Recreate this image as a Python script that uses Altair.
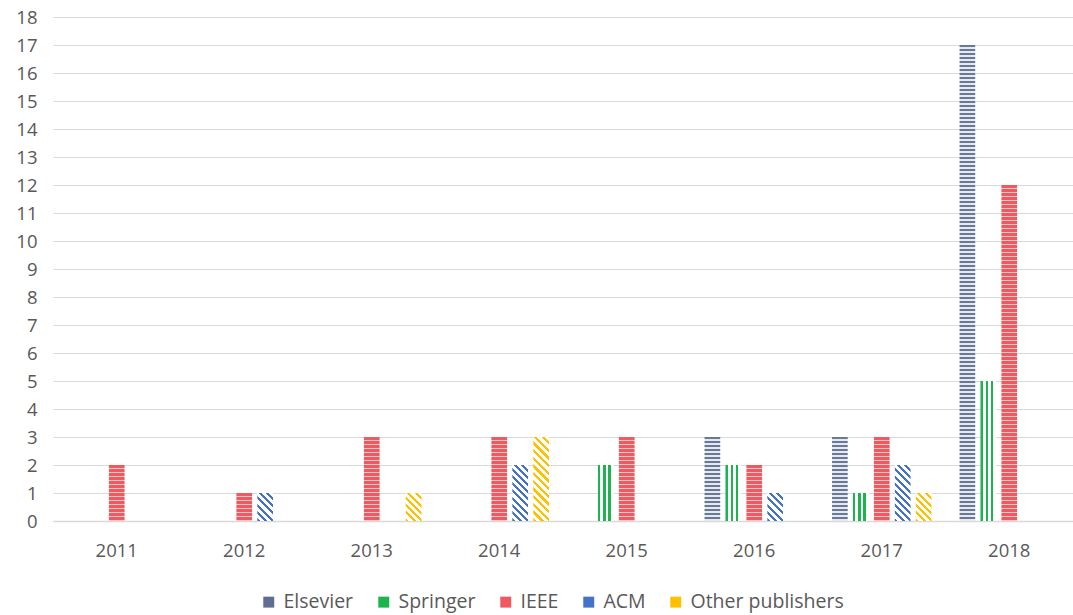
import altair as alt
import pandas as pd

# Publications per year and publisher
years = ["2011", "2012", "2013", "2014", "2015", "2016", "2017", "2018"]
publishers = ["Elsevier", "Springer", "IEEE", "ACM", "Other publishers"]
elsevier = [0, 0, 0, 0, 0, 3, 3, 17]
springer = [0, 0, 0, 0, 2, 2, 1, 5]
ieee = [2, 1, 3, 3, 3, 2, 3, 12]
acm = [0, 1, 0, 2, 0, 1, 2, 0]
other = [0, 0, 1, 3, 0, 0, 1, 0]

series = dict(zip(publishers, [elsevier, springer, ieee, acm, other]))
rows = [
    {"year": y, "publisher": p, "count": v}
    for p, vals in series.items()
    for y, v in zip(years, vals)
    if v > 0
]
df = pd.DataFrame(rows)

# Layout (pixels); a whole number of pixels per unit keeps stripes crisp
W = 1020
Y_MAX = 18
PX_PER_UNIT = 28
H = Y_MAX * PX_PER_UNIT
X_PAD_IN, X_PAD_OUT = 0.22, 0.11
OFF_PAD_IN = 0.25
step_x = W / (len(years) - X_PAD_IN + 2 * X_PAD_OUT)
group_w = step_x * (1 - X_PAD_IN)
bar_w = group_w / (len(publishers) - OFF_PAD_IN) * (1 - OFF_PAD_IN)

TEXT = "#595959"
GRID = "#d9d9d9"
FONT = "Open Sans"

solid = {
    "Elsevier": "#5f6d90",
    "Springer": "#1db34e",
    "IEEE": "#ee5a60",
    "ACM": "#4472c4",
    "Other publishers": "#ffc000",
}


def stripe_stops(c_on, c_off, n, frac):
    stops = []
    for i in range(n):
        a = i / n
        b = (i + frac) / n
        c = (i + 1) / n
        stops += [
            alt.GradientStop(offset=a, color=c_on),
            alt.GradientStop(offset=b, color=c_on),
            alt.GradientStop(offset=b, color=c_off),
            alt.GradientStop(offset=c, color=c_off),
        ]
    return stops


def horizontal_stripes(c_on, c_off, value, period, frac):
    h = value * PX_PER_UNIT
    n = max(1, round(h / period))
    return alt.LinearGradient(
        gradient="linear", x1=0, y1=0, x2=0, y2=1,
        stops=stripe_stops(c_on, c_off, n, frac),
    )


def vertical_stripes(c_on, c_off, n, frac):
    return alt.LinearGradient(
        gradient="linear", x1=0, y1=0, x2=1, y2=0,
        stops=stripe_stops(c_on, c_off, n, frac),
    )


def diagonal_stripes(c_on, c_off, value, period, frac):
    # 45-degree "\" stripes inside a bar of bar_w x h pixels
    w = bar_w
    h = value * PX_PER_UNIT
    k = (w + h) / (w * w + h * h)
    n = max(1, round((w + h) / period))
    return alt.LinearGradient(
        gradient="linear", x1=0, y1=1, x2=w * k, y2=1 - h * k,
        stops=stripe_stops(c_on, c_off, n, frac),
    )


def fill_for(pub, value):
    if pub == "Elsevier":
        return horizontal_stripes("#6b7999", "#e6e9f0", value, 4, 0.5)
    if pub == "Springer":
        return vertical_stripes("#1db34e", "#ffffff", 3, 0.45)
    if pub == "IEEE":
        return horizontal_stripes("#ee5a60", "#f9c4c5", value, 4, 0.75)
    if pub == "ACM":
        return diagonal_stripes("#4472c4", "#ffffff", value, 7.5, 0.42)
    return diagonal_stripes("#ffc000", "#ffffff", value, 7.5, 0.42)


base = alt.Chart(df).encode(
    x=alt.X(
        "year:O",
        sort=years,
        scale=alt.Scale(paddingInner=X_PAD_IN, paddingOuter=X_PAD_OUT),
        axis=alt.Axis(
            title=None, labelAngle=0, ticks=False, domain=True,
            domainColor=GRID, domainWidth=1.5, labelPadding=20,
            labelFontSize=18.5, labelColor=TEXT, labelFont=FONT, grid=False,
        ),
    ),
    xOffset=alt.XOffset(
        "publisher:N",
        sort=publishers,
        scale=alt.Scale(domain=publishers, paddingInner=OFF_PAD_IN, paddingOuter=0),
    ),
    y=alt.Y(
        "count:Q",
        scale=alt.Scale(domain=[0, Y_MAX], nice=False),
        axis=alt.Axis(
            title=None, values=list(range(0, Y_MAX + 1)), domain=False,
            ticks=False, labelPadding=16, labelFontSize=18.5, labelColor=TEXT,
            labelFont=FONT, gridColor=GRID, gridWidth=1.2,
        ),
    ),
)

legend_layer = base.mark_bar(opacity=0).encode(
    color=alt.Color(
        "publisher:N",
        sort=publishers,
        scale=alt.Scale(domain=publishers, range=[solid[p] for p in publishers]),
        legend=alt.Legend(
            title=None, orient="none", direction="horizontal",
            legendX=206, legendY=575, symbolType="square", symbolSize=120,
            symbolOpacity=1, symbolStrokeWidth=0, labelFontSize=19.5,
            labelColor=TEXT, labelFont=FONT, columnPadding=20, labelOffset=5,
        ),
    )
)

layers = [legend_layer]
for pub in publishers:
    for v in sorted(set(x for x in series[pub] if x > 0)):
        layers.append(
            base.mark_bar(fill=fill_for(pub, v), strokeWidth=0).transform_filter(
                (alt.datum.publisher == pub) & (alt.datum["count"] == v)
            )
        )

chart = (
    alt.layer(*layers)
    .properties(
        width=W,
        height=H,
        autosize=alt.AutoSizeParams(type="none"),
        padding={"left": 53, "top": 17, "right": 0, "bottom": 94},
        background="white",
    )
    .configure_view(stroke=None)
)

chart.save("out.html", embed_options={"renderer": "svg", "actions": False})
